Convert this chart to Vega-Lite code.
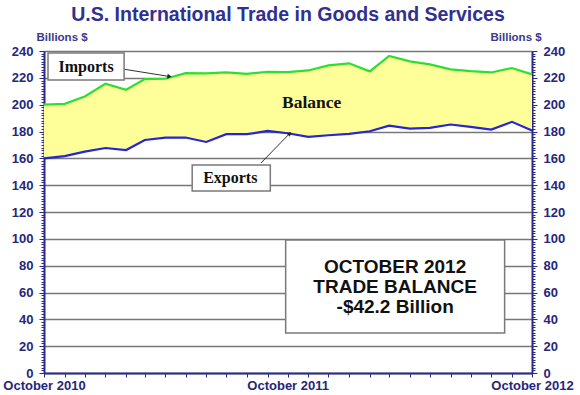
{
  "$schema": "https://vega.github.io/schema/vega-lite/v6.json",
  "width": 488,
  "height": 322,
  "autosize": {"type": "none"},
  "padding": {"left": 44, "top": 51, "right": 48, "bottom": 22},
  "background": "white",
  "title": {
    "text": "U.S. International Trade in Goods and Services",
    "font": "Liberation Sans",
    "fontSize": 19.5,
    "fontWeight": "bold",
    "color": "#30308f",
    "anchor": "middle",
    "frame": "group",
    "baseline": "bottom",
    "offset": -13
  },
  "config": {"view": {"stroke": null}, "font": "Liberation Sans"},
  "datasets": {
    "trade": [
      {"month": "2010-10-01", "imports": 200.0, "exports": 160.0},
      {"month": "2010-11-01", "imports": 200.6, "exports": 161.7},
      {"month": "2010-12-01", "imports": 206.1, "exports": 165.0},
      {"month": "2011-01-01", "imports": 215.6, "exports": 167.7},
      {"month": "2011-02-01", "imports": 211.1, "exports": 166.2},
      {"month": "2011-03-01", "imports": 219.1, "exports": 173.7},
      {"month": "2011-04-01", "imports": 219.3, "exports": 175.5},
      {"month": "2011-05-01", "imports": 223.5, "exports": 175.5},
      {"month": "2011-06-01", "imports": 223.3, "exports": 172.2},
      {"month": "2011-07-01", "imports": 224.0, "exports": 178.0},
      {"month": "2011-08-01", "imports": 223.0, "exports": 178.0},
      {"month": "2011-09-01", "imports": 224.5, "exports": 180.4},
      {"month": "2011-10-01", "imports": 224.3, "exports": 178.7},
      {"month": "2011-11-01", "imports": 225.5, "exports": 176.0},
      {"month": "2011-12-01", "imports": 229.3, "exports": 177.2},
      {"month": "2012-01-01", "imports": 230.8, "exports": 178.2},
      {"month": "2012-02-01", "imports": 224.8, "exports": 180.2},
      {"month": "2012-03-01", "imports": 236.3, "exports": 184.4},
      {"month": "2012-04-01", "imports": 232.3, "exports": 182.2},
      {"month": "2012-05-01", "imports": 230.0, "exports": 182.7},
      {"month": "2012-06-01", "imports": 226.3, "exports": 185.2},
      {"month": "2012-07-01", "imports": 225.0, "exports": 183.4},
      {"month": "2012-08-01", "imports": 224.0, "exports": 181.4},
      {"month": "2012-09-01", "imports": 227.3, "exports": 187.2},
      {"month": "2012-10-01", "imports": 222.6, "exports": 180.7}
    ],
    "boxes": [
      {"x": "2010-10-07", "x2": "2011-01-29", "y": 238.5, "y2": 218.4},
      {"x": "2011-05-11", "x2": "2011-09-05", "y": 155.0, "y2": 135.7},
      {"x": "2011-09-28", "x2": "2012-08-21", "y": 99.1, "y2": 29.8}
    ],
    "seriesLabels": [
      {"label": "Imports", "x": "2010-12-03", "y": 228.2},
      {"label": "Exports", "x": "2011-07-07", "y": 145.3}
    ],
    "balanceLabel": [
      {"label": "Balance", "x": "2011-11-06", "y": 201.0}
    ],
    "boxText": [
      {"label": "OCTOBER 2012", "x": "2012-03-10", "y": 79.2},
      {"label": "TRADE BALANCE", "x": "2012-03-10", "y": 64.3},
      {"label": "-$42.2 Billion", "x": "2012-03-10", "y": 49.4}
    ],
    "arrows": [
      {"x": "2011-01-29", "y": 226.4, "x2": "2011-04-07", "y2": 221.0},
      {"x": "2011-08-22", "y": 156.5, "x2": "2011-10-04", "y2": 178.5}
    ],
    "headImports": [{"x": "2011-04-07", "y": 221.0}],
    "headExports": [{"x": "2011-10-04", "y": 178.5}]
  },
  "resolve": {"axis": {"y": "independent"}},
  "layer": [
    {
      "data": {"name": "trade"},
      "mark": {"type": "area", "color": "#ffff99", "opacity": 1},
      "encoding": {
        "x": {
          "field": "month",
          "type": "temporal",
          "scale": {"type": "utc", "domain": [{"year": 2010, "month": 10, "date": 1, "utc": true}, {"year": 2012, "month": 10, "date": 1, "utc": true}]},
          "axis": {
            "title": null,
            "tickCount": {"interval": "month", "step": 1},
            "labelExpr": "utcFormat(datum.value,'%m')=='10' ? utcFormat(datum.value,'%B %Y') : ''",
            "labelOverlap": false,
            "labelFlush": false,
            "labelBound": false,
            "grid": false,
            "domainColor": "#2a2a8a",
            "domainWidth": 2,
            "tickColor": "#2a2a8a",
            "tickSize": 4,
            "labelFont": "Liberation Sans",
            "labelFontSize": 13,
            "labelFontWeight": "bold",
            "labelColor": "#26267a",
            "labelPadding": 2
          }
        },
        "y": {
          "field": "imports",
          "type": "quantitative",
          "scale": {"domain": [0, 240], "nice": false},
          "axis": {
            "title": "Billions $",
            "titleAngle": 0,
            "titleAlign": "left",
            "titleBaseline": "middle",
            "titleX": -8,
            "titleY": -14,
            "titleFont": "Liberation Sans",
            "titleFontSize": 11.5,
            "titleFontWeight": "bold",
            "titleColor": "#3a3a8c",
            "tickCount": 120,
            "labelExpr": "datum.value % 20 === 0 ? datum.label : ''",
            "labelOverlap": false,
            "tickSize": {"condition": {"test": "datum.value % 20 === 0", "value": 5}, "value": 3},
            "grid": true,
            "gridColor": "#777777",
            "gridWidth": 1.5,
            "gridOpacity": {"condition": {"test": "datum.value % 20 === 0", "value": 1}, "value": 0},
            "domainColor": "#2a2a8a",
            "domainWidth": 2,
            "tickColor": "#2a2a8a",
            "tickWidth": 1,
            "labelFont": "Liberation Sans",
            "labelFontSize": 13,
            "labelFontWeight": "bold",
            "labelColor": "#26267a",
            "labelPadding": 6
          }
        },
        "y2": {"field": "exports"}
      }
    },
    {
      "data": {"name": "trade"},
      "mark": {"type": "line", "color": "#2ee02e", "strokeWidth": 2.2},
      "encoding": {
        "x": {"field": "month", "type": "temporal", "scale": {"type": "utc"}},
        "y": {
          "field": "imports",
          "type": "quantitative",
          "scale": {"domain": [0, 240], "nice": false},
          "axis": {
            "orient": "right",
            "title": "Billions $",
            "titleAngle": 0,
            "titleAlign": "left",
            "titleBaseline": "middle",
            "titleX": -42,
            "titleY": -14,
            "titleFont": "Liberation Sans",
            "titleFontSize": 11.5,
            "titleFontWeight": "bold",
            "titleColor": "#3a3a8c",
            "tickCount": 120,
            "labelExpr": "datum.value % 20 === 0 ? datum.label : ''",
            "labelOverlap": false,
            "tickSize": {"condition": {"test": "datum.value % 20 === 0", "value": 5}, "value": 3},
            "grid": false,
            "domainColor": "#2a2a8a",
            "domainWidth": 2,
            "tickColor": "#2a2a8a",
            "tickWidth": 1,
            "labelFont": "Liberation Sans",
            "labelFontSize": 13,
            "labelFontWeight": "bold",
            "labelColor": "#26267a",
            "labelPadding": 6
          }
        }
      }
    },
    {
      "data": {"name": "trade"},
      "mark": {"type": "line", "color": "#2424d8", "strokeWidth": 2.2},
      "encoding": {
        "x": {"field": "month", "type": "temporal", "scale": {"type": "utc"}},
        "y": {"field": "exports", "type": "quantitative", "scale": {"domain": [0, 240], "nice": false}, "axis": null}
      }
    },
    {
      "data": {"name": "arrows"},
      "mark": {"type": "rule", "color": "#333333", "strokeWidth": 1},
      "encoding": {
        "x": {"field": "x", "type": "temporal", "scale": {"type": "utc"}},
        "x2": {"field": "x2"},
        "y": {"field": "y", "type": "quantitative", "scale": {"domain": [0, 240], "nice": false}, "axis": null},
        "y2": {"field": "y2"}
      }
    },
    {
      "data": {"name": "headImports"},
      "mark": {"type": "point", "shape": "triangle-right", "filled": true, "color": "#222222", "size": 25, "angle": 8, "opacity": 1},
      "encoding": {
        "x": {"field": "x", "type": "temporal", "scale": {"type": "utc"}},
        "y": {"field": "y", "type": "quantitative", "scale": {"domain": [0, 240], "nice": false}, "axis": null}
      }
    },
    {
      "data": {"name": "headExports"},
      "mark": {"type": "point", "shape": "triangle-right", "filled": true, "color": "#222222", "size": 25, "angle": 314, "opacity": 1},
      "encoding": {
        "x": {"field": "x", "type": "temporal", "scale": {"type": "utc"}},
        "y": {"field": "y", "type": "quantitative", "scale": {"domain": [0, 240], "nice": false}, "axis": null}
      }
    },
    {
      "data": {"name": "boxes"},
      "mark": {"type": "rect", "fill": "white", "stroke": "#7a7a7a", "strokeWidth": 1.5},
      "encoding": {
        "x": {"field": "x", "type": "temporal", "scale": {"type": "utc"}},
        "x2": {"field": "x2"},
        "y": {"field": "y", "type": "quantitative", "scale": {"domain": [0, 240], "nice": false}, "axis": null},
        "y2": {"field": "y2"}
      }
    },
    {
      "data": {"name": "seriesLabels"},
      "mark": {"type": "text", "font": "Liberation Serif", "fontWeight": "bold", "fontSize": 16, "color": "#111111", "align": "center", "baseline": "middle"},
      "encoding": {
        "x": {"field": "x", "type": "temporal", "scale": {"type": "utc"}},
        "y": {"field": "y", "type": "quantitative", "scale": {"domain": [0, 240], "nice": false}, "axis": null},
        "text": {"field": "label"}
      }
    },
    {
      "data": {"name": "balanceLabel"},
      "mark": {"type": "text", "font": "Liberation Serif", "fontWeight": "bold", "fontSize": 17.5, "color": "#111111", "align": "center", "baseline": "middle"},
      "encoding": {
        "x": {"field": "x", "type": "temporal", "scale": {"type": "utc"}},
        "y": {"field": "y", "type": "quantitative", "scale": {"domain": [0, 240], "nice": false}, "axis": null},
        "text": {"field": "label"}
      }
    },
    {
      "data": {"name": "boxText"},
      "mark": {"type": "text", "font": "Liberation Sans", "fontWeight": "bold", "fontSize": 19, "color": "#111111", "align": "center", "baseline": "middle"},
      "encoding": {
        "x": {"field": "x", "type": "temporal", "scale": {"type": "utc"}},
        "y": {"field": "y", "type": "quantitative", "scale": {"domain": [0, 240], "nice": false}, "axis": null},
        "text": {"field": "label"}
      }
    }
  ]
}
